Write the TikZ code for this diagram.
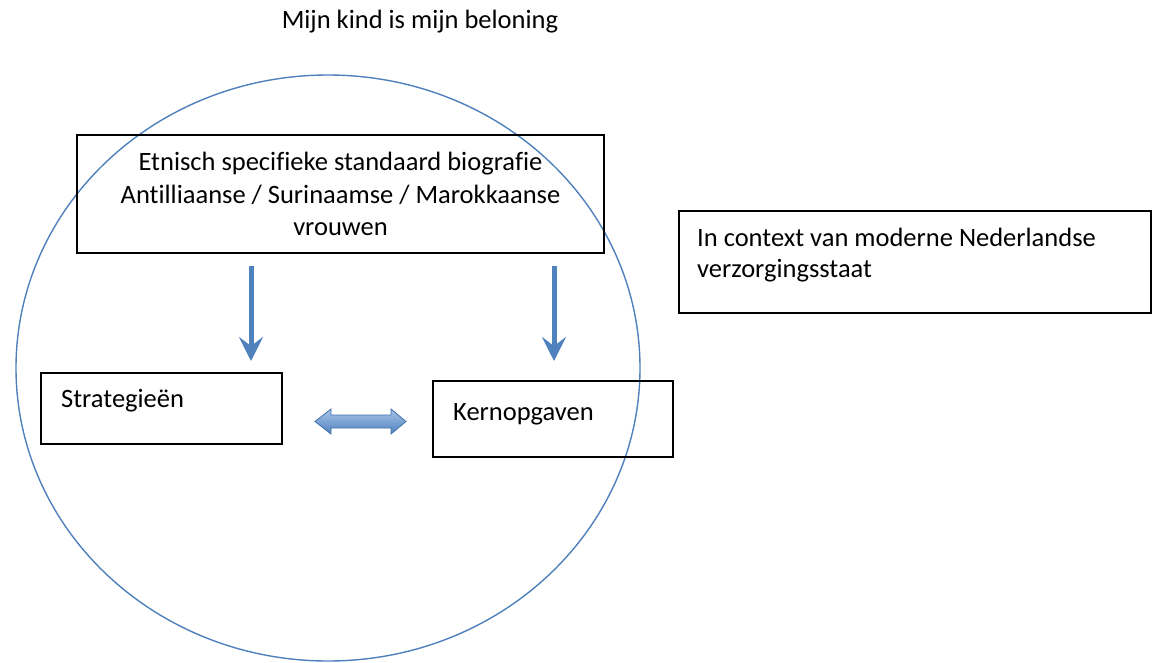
\documentclass[tikz,border=0pt]{standalone}
\usepackage{fontspec}
\setmainfont[Ligatures=NoCommon]{Carlito}
\usetikzlibrary{arrows.meta}
\definecolor{obl}{HTML}{4F81BD}
\definecolor{obldark}{HTML}{4071AD}
\definecolor{oblight}{HTML}{A9C4EA}
\begin{document}
\begin{tikzpicture}[x=1pt,y=-1pt,
  box/.style={draw=black,line width=1.3pt,inner sep=0pt,rectangle},
  txt/.style={inner sep=0pt,font=\fontsize{26.5}{31.5}\selectfont},
  downarrow/.style={draw=obl,line width=5pt,-{Stealth[length=24pt,width=24pt,inset=9pt]}}]
\useasboundingbox (0,0) rectangle (1157,662);
\fill[white] (0,0) rectangle (1157,662);
% title
\node[txt,anchor=base] (title) at (420,28) {Mijn kind is mijn beloning};
% circle
\draw[obl,line width=1.4pt] (328,368) ellipse [x radius=312pt,y radius=293pt];
% boxes
\node[box,minimum width=527pt,minimum height=118pt,align=center,
      font=\fontsize{26.5}{32.5}\selectfont] (bio) at (340.5,194)
  {Etnisch specifieke standaard biografie\\Antilliaanse / Surinaamse / Marokkaanse\\vrouwen};
\node[box,minimum width=472pt,minimum height=102pt] (ctx) at (915,262) {};
\node[txt,anchor=base west,align=left,font=\fontsize{26.5}{31}\selectfont] (ctxt) at (697,277)
  {In context van moderne Nederlandse\\verzorgingsstaat};
\node[box,minimum width=241pt,minimum height=71pt] (strat) at (161.5,408.5) {};
\node[txt,anchor=base west] (stratt) at (61,407) {Strategieën};
\node[box,minimum width=240pt,minimum height=76pt] (kern) at (553,419) {};
\node[txt,anchor=base west] (kernt) at (453,420) {Kernopgaven};
% down arrows
\coordinate (a1s) at (251,266);
\coordinate (a1e) at (251,361);
\coordinate (a2s) at (554,266);
\coordinate (a2e) at (554,361);
\draw[downarrow] (a1s) -- (a1e);
\draw[downarrow] (a2s) -- (a2e);
% double arrow
\coordinate (dl) at (315,421.5);
\coordinate (dr) at (406,421.5);
\draw[obldark,line width=0.8pt,top color=oblight,bottom color=obl]
  (dl) -- (331,409) -- (331,415) -- (391,415) -- (391,409) -- (dr)
  -- (391,434) -- (391,428) -- (331,428) -- (331,434) -- cycle;
\end{tikzpicture}
\end{document}
